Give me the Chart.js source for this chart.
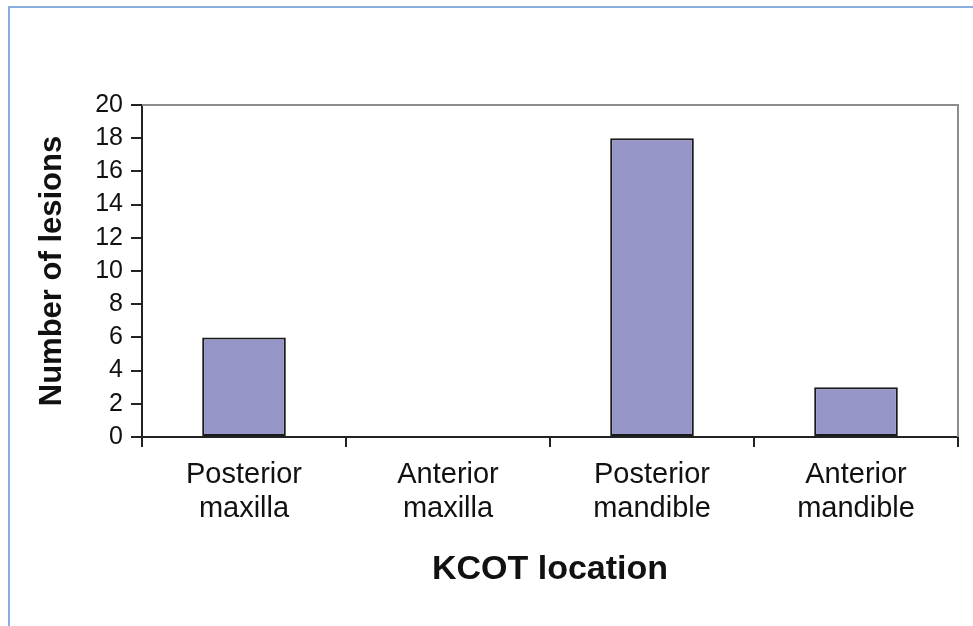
<!DOCTYPE html>
<html lang="en">
<head>
    <meta charset="UTF-8">
    <title>KCOT location</title>
    <script src="https://cdn.jsdelivr.net/npm/chart.js"></script>
    <style>
        body { margin: 0; background: #fff; }
        #wrap { position: relative; width: 973px; height: 626px; overflow: hidden; }
        #frame { position: absolute; left: 8px; top: 6px; width: 980px; height: 640px;
                 border-left: 2px solid #8aaede; border-top: 2px solid #8aaede; }
        #kcotChart { position: absolute; left: 0; top: 0; }
    </style>
</head>
<body>
<div id="wrap">
    <div id="frame"></div>
    <canvas id="kcotChart" width="973" height="626"></canvas>
</div>
<script>
    // Data
    const locations = [
        ["Posterior", "maxilla"],
        ["Anterior", "maxilla"],
        ["Posterior", "mandible"],
        ["Anterior", "mandible"]
    ];
    const lesions = [6, 0, 18, 3];
    const yTicks = [0, 2, 4, 6, 8, 10, 12, 14, 16, 18, 20];

    const FONT = "'Liberation Sans', Arial, sans-serif";

    // gray frame on top and right of the plot
    const plotFrame = {
        id: 'plotFrame',
        afterDatasetsDraw(chart) {
            const { ctx, chartArea: a } = chart;
            ctx.save();
            ctx.strokeStyle = '#8c8c8c';
            ctx.lineWidth = 2;
            ctx.beginPath();
            ctx.moveTo(a.left, a.top);
            ctx.lineTo(a.right, a.top);
            ctx.lineTo(a.right, a.bottom);
            ctx.stroke();
            ctx.restore();
        }
    };

    new Chart(document.getElementById('kcotChart'), {
        type: 'bar',
        data: {
            labels: locations,
            datasets: [{
                data: lesions,
                backgroundColor: '#9595c8',
                borderColor: '#1a1a1a',
                borderWidth: 2,
                borderSkipped: false,
                barPercentage: 0.41,
                categoryPercentage: 1
            }]
        },
        options: {
            responsive: false,
            animation: false,
            layout: { padding: { top: 105, right: 15, left: 0, bottom: 0 } },
            plugins: { legend: { display: false }, tooltip: { enabled: false } },
            scales: {
                x: {
                    afterFit: s => { s.height = 189; },
                    border: { color: '#222', width: 2 },
                    grid: { offset: true, drawOnChartArea: false, tickLength: 10, color: '#222', lineWidth: 2 },
                    ticks: { color: '#111', padding: 11, maxRotation: 0,
                             font: { family: FONT, size: 29, lineHeight: 1.17 } },
                    title: { display: true, text: 'KCOT location', color: '#111',
                             padding: { top: 0, bottom: 36 },
                             font: { family: FONT, size: 34, weight: 'bold' } }
                },
                y: {
                    min: 0, max: 20,
                    afterFit: s => { s.width = 142; },
                    afterBuildTicks: s => { s.ticks = yTicks.map(v => ({ value: v })); },
                    border: { color: '#222', width: 2 },
                    grid: { drawOnChartArea: false, tickLength: 11, color: '#222', lineWidth: 2 },
                    ticks: { color: '#111', padding: 8, autoSkip: false,
                             font: { family: FONT, size: 25 } },
                    title: { display: true, text: 'Number of lesions', color: '#111',
                             padding: { top: 34, bottom: 0 },
                             font: { family: FONT, size: 31, weight: 'bold' } }
                }
            }
        },
        plugins: [plotFrame]
    });
</script>
</body>
</html>
